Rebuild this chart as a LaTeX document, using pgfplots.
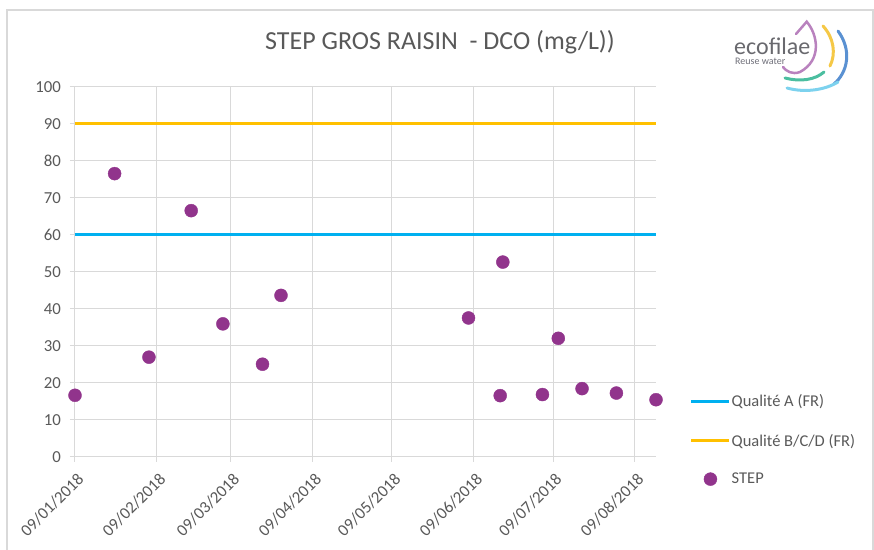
\documentclass[border=0pt]{standalone}
\usepackage{pgfplots}
\pgfplotsset{compat=1.18}
\usepackage{fontspec}
\setmainfont{Carlito}
\definecolor{txt}{RGB}{89,89,89}
\definecolor{gridc}{RGB}{217,217,217}
\definecolor{qa}{RGB}{0,176,240}
\definecolor{qb}{RGB}{255,192,0}
\definecolor{stepc}{RGB}{145,52,140}
\begin{document}
\begin{tikzpicture}
\useasboundingbox (-75pt,-92.3pt) rectangle (799pt,456.7pt);
\begin{axis}[
  scale only axis, width=581pt, height=370pt,
  xmin=0, xmax=220, ymin=0, ymax=100,
  axis lines=left, axis line style={draw=gridc, line width=1pt, -},
  clip=false,
  xtick={0,31,59,90,120,151,181,212},
  xticklabels={09/01/2018,09/02/2018,09/03/2018,09/04/2018,09/05/2018,09/06/2018,09/07/2018,09/08/2018},
  ytick={0,10,...,100},
  grid=major, major grid style={draw=gridc, line width=1pt},
  tick align=outside, major tick length=5pt,
  tick style={draw=gridc, line width=1pt},
  ticklabel style={font=\fontsize{16.8}{19}\selectfont, text=txt},
  /pgf/number format/assume math mode=true,
  xticklabel style={rotate=45, anchor=north east, inner sep=2pt, xshift=-4pt, yshift=-6pt},
  yticklabel style={inner sep=3pt, xshift=-6pt},
  legend style={at={(1.0585,0.045)}, anchor=west, draw=none, fill=none,
    font=\fontsize{16.5}{19}\selectfont, text=txt, inner sep=0pt,
    row sep=23.5pt, nodes={inner sep=1pt, anchor=west}},
  legend cell align=left,
]
\addplot[qa, line width=2.5pt, legend image code/.code={\draw[qa, line width=2.5pt] (0pt,0pt) -- (38pt,0pt);}] coordinates {(0,60) (220,60)};
\addlegendentry{Qualité A (FR)}
\addplot[qb, line width=2.5pt, legend image code/.code={\draw[qb, line width=2.5pt] (0pt,0pt) -- (38pt,0pt);}] coordinates {(0,90) (220,90)};
\addlegendentry{Qualité B/C/D (FR)}
\addplot[only marks, mark=*, mark size=6.5pt, mark options={fill=stepc, draw=stepc},
  legend image code/.code={\fill[stepc] (19pt,0pt) circle (6.5pt); \path (37pt,0pt);}] coordinates {
(0,16.6) (15,76.5) (28,26.9) (44,66.5) (56,35.9) (71,25.0) (78,43.6)
(149,37.5) (161,16.5) (162,52.6) (177,16.8) (183,32.0) (192,18.4) (205,17.2) (220,15.4)};
\addlegendentry{STEP}
\end{axis}
\begin{scope}[x=1pt, y=-1pt, shift={(-75pt,456.7pt)}]
\draw[gridc, line width=1.5pt] (7,560) -- (7,10) -- (873,10) -- (873,560);
\node[anchor=base, text=txt, font=\fontsize{26}{30}\selectfont] at (440,50) {STEP GROS RAISIN\ \ - DCO (mg/L))};
\node[anchor=base west, inner sep=0pt, text={rgb,255:red,105;green,105;blue,110}, font=\fontsize{24}{28}\selectfont] at (734,55) {ecofilae};
\node[anchor=base west, inner sep=0pt, text={rgb,255:red,110;green,110;blue,120}, font=\fontsize{10}{12}\selectfont] at (735,65) {Reuse water};
\draw[line width=2.5pt, color={rgb,255:red,185;green,130;blue,190}, line cap=round] (796,34) -- (806.7,21.7) .. controls (818,35) and (822,60) .. (800,72) .. controls (792,75) and (786,71) .. (783,67);
\draw[line width=3pt, color={rgb,255:red,245;green,200;blue,70}, line cap=round] (823,26) .. controls (834,38) and (836,54) .. (830,66);
\draw[line width=3pt, color={rgb,255:red,90;green,145;blue,210}, line cap=round] (838,31) .. controls (852,50) and (848,72) .. (834,84);
\draw[line width=3pt, color={rgb,255:red,75;green,190;blue,160}, line cap=round] (785,78) .. controls (800,82) and (815,80) .. (824,72);
\draw[line width=3pt, color={rgb,255:red,125;green,210;blue,238}, line cap=round] (787,88) .. controls (805,93) and (825,90) .. (838,82);
\end{scope}
\end{tikzpicture}
\end{document}
